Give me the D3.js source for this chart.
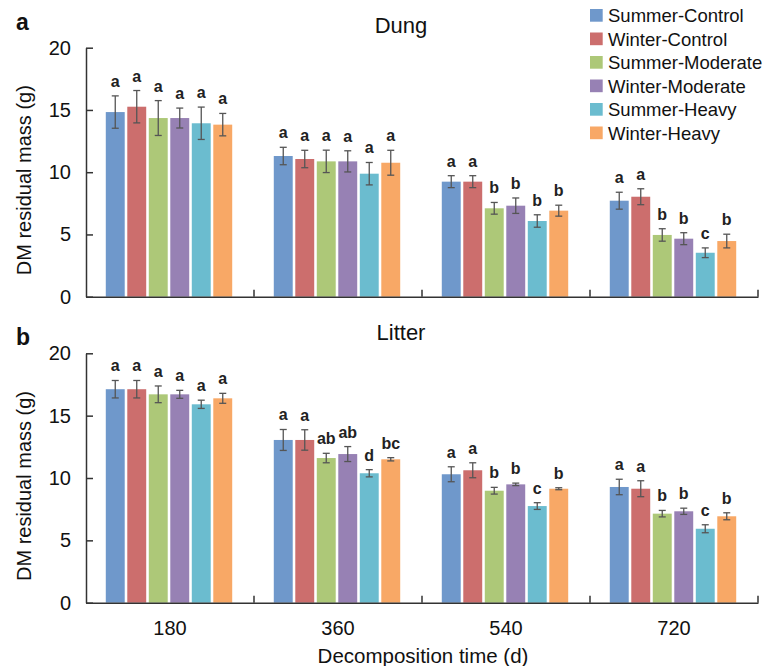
<!DOCTYPE html>
<html>
<head>
<meta charset="utf-8">
<script src="https://cdn.jsdelivr.net/npm/d3@7"></script>
<style>
  body { margin: 0; background: #fff; }
  svg { font-family: "Liberation Sans", Arial, sans-serif; }
  .axis path, .axis line { stroke: #333; stroke-width: 1.5; }
  .axis text { font-size: 20px; fill: #111; }
</style>
</head>
<body>
<div id="chart"></div>
<script>
  // data
  var times = ['180', '360', '540', '720'];
  var treatments = ['Summer-Control', 'Winter-Control', 'Summer-Moderate',
    'Winter-Moderate', 'Summer-Heavy', 'Winter-Heavy'];
  var colors = ['#6f98cb', '#cc6e6d', '#adc878', '#9781b4', '#6bbccf', '#f8a866'];
  var yTicks = [0, 5, 10, 15, 20];

  var dungMean = [
    [14.83, 15.26, 14.35, 14.35, 13.93, 13.82],
    [11.30, 11.06, 10.87, 10.87, 9.88, 10.76],
    [9.24, 9.24, 7.10, 7.31, 6.08, 6.91],
    [7.71, 8.03, 4.96, 4.66, 3.53, 4.47]
  ];
  var dungErr = [
    [1.3, 1.3, 1.4, 0.8, 1.3, 0.9],
    [0.7, 0.7, 0.9, 0.85, 0.9, 1.0],
    [0.48, 0.48, 0.47, 0.62, 0.5, 0.44],
    [0.68, 0.64, 0.5, 0.48, 0.39, 0.55]
  ];
  var dungLetters = [
    ['a', 'a', 'a', 'a', 'a', 'a'],
    ['a', 'a', 'a', 'a', 'a', 'a'],
    ['a', 'a', 'b', 'b', 'b', 'b'],
    ['a', 'a', 'b', 'b', 'c', 'b']
  ];

  var litterMean = [
    [17.12, 17.12, 16.71, 16.71, 15.91, 16.39],
    [13.05, 13.05, 11.60, 11.92, 10.38, 11.50],
    [10.30, 10.62, 8.98, 9.49, 7.75, 9.14],
    [9.28, 9.14, 7.14, 7.33, 5.93, 6.93]
  ];
  var litterErr = [
    [0.7, 0.7, 0.67, 0.32, 0.33, 0.4],
    [0.84, 0.82, 0.38, 0.6, 0.29, 0.13],
    [0.6, 0.6, 0.27, 0.1, 0.27, 0.08],
    [0.62, 0.64, 0.26, 0.25, 0.32, 0.28]
  ];
  var litterLetters = [
    ['a', 'a', 'a', 'a', 'a', 'a'],
    ['a', 'a', 'ab', 'ab', 'd', 'bc'],
    ['a', 'a', 'b', 'b', 'c', 'b'],
    ['a', 'a', 'b', 'b', 'c', 'b']
  ];

  var width = 774, height = 666;
  var left = 86, right = 758;

  var svg = d3.select('#chart').append('svg')
    .attr('width', width)
    .attr('height', height);

  var x0 = d3.scaleBand().domain(times).range([left, right]).padding(0);
  var x1 = d3.scaleBand().domain(treatments)
    .range([18.5, 147.5])
    .paddingInner(0.12)
    .paddingOuter(0.06);

  function drawPanel(opt) {
    var y = d3.scaleLinear().domain([0, 20]).range([opt.y0, opt.y20]);
    var g = svg.append('g');

    // bars
    var groups = g.selectAll('.grp')
      .data(times)
      .enter().append('g')
      .attr('class', 'grp')
      .attr('transform', function(d) { return 'translate(' + x0(d) + ',0)'; });

    groups.each(function(t, ti) {
      var rows = treatments.map(function(name, i) {
        return { name: name, i: i, v: opt.mean[ti][i], e: opt.err[ti][i], l: opt.letters[ti][i] };
      });
      var grp = d3.select(this);

      grp.selectAll('rect')
        .data(rows)
        .enter().append('rect')
        .attr('x', function(d) { return x1(d.name); })
        .attr('y', function(d) { return y(d.v); })
        .attr('width', x1.bandwidth())
        .attr('height', function(d) { return y(0) - y(d.v); })
        .attr('fill', function(d) { return colors[d.i]; });

      var eb = grp.selectAll('.eb')
        .data(rows)
        .enter().append('g')
        .attr('class', 'eb')
        .attr('stroke', '#555')
        .attr('stroke-width', 1.3);
      eb.append('line')
        .attr('x1', function(d) { return x1(d.name) + x1.bandwidth() / 2; })
        .attr('x2', function(d) { return x1(d.name) + x1.bandwidth() / 2; })
        .attr('y1', function(d) { return y(d.v + d.e); })
        .attr('y2', function(d) { return y(d.v - d.e); });
      [1, -1].forEach(function(s) {
        eb.append('line')
          .attr('x1', function(d) { return x1(d.name) + x1.bandwidth() / 2 - 3.5; })
          .attr('x2', function(d) { return x1(d.name) + x1.bandwidth() / 2 + 3.5; })
          .attr('y1', function(d) { return y(d.v + s * d.e); })
          .attr('y2', function(d) { return y(d.v + s * d.e); });
      });

      grp.selectAll('.lbl')
        .data(rows)
        .enter().append('text')
        .attr('class', 'lbl')
        .attr('x', function(d) { return x1(d.name) + x1.bandwidth() / 2; })
        .attr('y', function(d) { return y(d.v + d.e) - 9; })
        .attr('text-anchor', 'middle')
        .attr('font-size', '16px')
        .attr('font-weight', 'bold')
        .attr('fill', '#222')
        .text(function(d) { return d.l; });
    });

    // y axis, ticks pointing inward
    g.append('g')
      .attr('class', 'axis')
      .attr('transform', 'translate(' + left + ',0)')
      .call(d3.axisLeft(y).tickValues(yTicks).tickSize(-7).tickSizeOuter(0).tickPadding(15));

    // x axis
    var xa = g.append('g')
      .attr('class', 'axis')
      .attr('transform', 'translate(0,' + opt.y0 + ')')
      .call(d3.axisBottom(x0).tickSize(0).tickSizeOuter(0).tickPadding(18));
    if (!opt.showX) xa.selectAll('text').remove();

    g.selectAll('.sep')
      .data(times)
      .enter().append('line')
      .attr('class', 'sep')
      .attr('x1', function(d) { return x0(d) + x0.bandwidth(); })
      .attr('x2', function(d) { return x0(d) + x0.bandwidth(); })
      .attr('y1', opt.y0)
      .attr('y2', opt.y0 - 7)
      .attr('stroke', '#333')
      .attr('stroke-width', 1.5);

    // y title
    g.append('text')
      .attr('transform', 'translate(31,' + ((opt.y0 + opt.y20) / 2 + 8) + ') rotate(-90)')
      .attr('text-anchor', 'middle')
      .attr('font-size', '20px')
      .attr('fill', '#111')
      .text('DM residual mass (g)');

    // panel title and letter
    g.append('text')
      .attr('x', 401)
      .attr('y', opt.titleY)
      .attr('text-anchor', 'middle')
      .attr('font-size', '22px')
      .attr('fill', '#111')
      .text(opt.title);
    g.append('text')
      .attr('x', 16)
      .attr('y', opt.tagY)
      .attr('font-size', '23px')
      .attr('font-weight', 'bold')
      .attr('fill', '#111')
      .text(opt.tag);
  }

  drawPanel({
    mean: dungMean, err: dungErr, letters: dungLetters,
    y0: 296.7, y20: 47.7, title: 'Dung', titleY: 33, tag: 'a', tagY: 30, showX: false
  });
  drawPanel({
    mean: litterMean, err: litterErr, letters: litterLetters,
    y0: 602.7, y20: 353.3, title: 'Litter', titleY: 340, tag: 'b', tagY: 345, showX: true
  });

  // x title
  svg.append('text')
    .attr('x', 423)
    .attr('y', 663)
    .attr('text-anchor', 'middle')
    .attr('font-size', '20.5px')
    .attr('fill', '#111')
    .text('Decomposition time (d)');

  // legend
  var legend = svg.append('g').attr('transform', 'translate(590,9)');
  var item = legend.selectAll('g')
    .data(treatments)
    .enter().append('g')
    .attr('transform', function(d, i) { return 'translate(0,' + (i * 23.5) + ')'; });
  item.append('rect')
    .attr('width', 12.7)
    .attr('height', 12.7)
    .attr('fill', function(d, i) { return colors[i]; });
  item.append('text')
    .attr('x', 18)
    .attr('y', 13)
    .attr('font-size', '18.5px')
    .attr('fill', '#111')
    .text(function(d) { return d; });
</script>
</body>
</html>
